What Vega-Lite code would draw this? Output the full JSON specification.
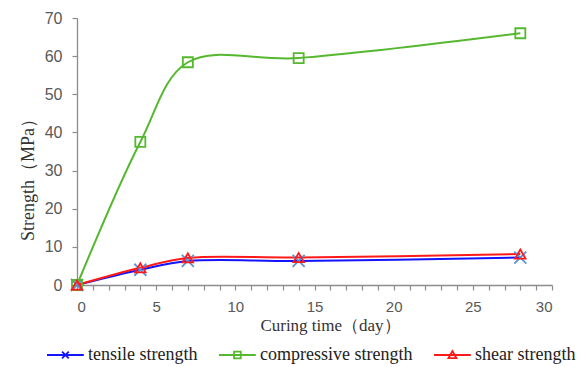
{
  "$schema": "https://vega.github.io/schema/vega-lite/v6.json",
  "width": 475,
  "height": 267,
  "autosize": "none",
  "padding": {"left": 77, "top": 18, "right": 31, "bottom": 82},
  "background": "white",
  "config": {
    "view": {"stroke": null},
    "axis": {
      "grid": false,
      "domainColor": "#8c8c8c",
      "domainWidth": 1.3,
      "tickColor": "#8c8c8c",
      "tickWidth": 1.2,
      "labelColor": "#595959",
      "labelFont": "Liberation Sans",
      "labelFontSize": 16,
      "titleFont": "Liberation Serif",
      "titleFontSize": 17,
      "titleFontWeight": "normal",
      "titleColor": "#333333"
    }
  },
  "data": {
    "values": [
      {"day": 0, "strength": 0, "series": "tensile strength"},
      {"day": 4, "strength": 4.0, "series": "tensile strength"},
      {"day": 7, "strength": 6.3, "series": "tensile strength"},
      {"day": 14, "strength": 6.3, "series": "tensile strength"},
      {"day": 28, "strength": 7.2, "series": "tensile strength"},
      {"day": 0, "strength": 0, "series": "compressive strength"},
      {"day": 4, "strength": 37.5, "series": "compressive strength"},
      {"day": 7, "strength": 58.4, "series": "compressive strength"},
      {"day": 14, "strength": 59.5, "series": "compressive strength"},
      {"day": 28, "strength": 66.0, "series": "compressive strength"},
      {"day": 0, "strength": 0, "series": "shear strength"},
      {"day": 4, "strength": 4.5, "series": "shear strength"},
      {"day": 7, "strength": 7.1, "series": "shear strength"},
      {"day": 14, "strength": 7.2, "series": "shear strength"},
      {"day": 28, "strength": 8.1, "series": "shear strength"}
    ]
  },
  "encoding": {
    "x": {
      "field": "day",
      "type": "quantitative",
      "scale": {"domain": [0, 30], "nice": false},
      "axis": {
        "title": "Curing time（day）",
        "titleX": 253,
        "labelFontSize": 15,
        "values": [0,1,2,3,4,5,6,7,8,9,10,11,12,13,14,15,16,17,18,19,20,21,22,23,24,25,26,27,28,29,30],
        "labelExpr": "datum.value % 5 === 0 ? datum.label : ''",
        "tickSize": 5,
        "labelPadding": 9,
        "titlePadding": 3
      }
    },
    "y": {
      "field": "strength",
      "type": "quantitative",
      "scale": {"domain": [0, 70], "nice": false},
      "axis": {
        "title": "Strength（MPa）",
        "titleFontSize": 18,
        "titleY": 157,
        "values": [0, 10, 20, 30, 40, 50, 60, 70],
        "tickSize": 5,
        "labelPadding": 10,
        "titlePadding": 7
      }
    }
  },
  "layer": [
    {
      "mark": {"type": "line", "interpolate": "catmull-rom", "strokeWidth": 2},
      "encoding": {
        "color": {
          "field": "series",
          "type": "nominal",
          "scale": {
            "domain": ["tensile strength", "compressive strength", "shear strength"],
            "range": ["#1414ff", "#55b82e", "#ff1a1a"]
          },
          "legend": {
            "title": null,
            "orient": "none",
            "direction": "horizontal",
            "legendX": -31,
            "legendY": 328,
            "symbolSize": 256,
            "symbolStrokeWidth": 1.8,
            "labelFont": "Liberation Serif",
            "labelFontSize": 18,
            "labelColor": "#222222",
            "labelOffset": 24,
            "labelLimit": 200,
            "columnPadding": 17,
            "encode": {
              "symbols": {
                "update": {
                  "shape": {"signal": "datum.value === 'tensile strength' ? 'M-1,0H3.6M0.88,-0.42L1.72,0.42M0.88,0.42L1.72,-0.42' : datum.value === 'compressive strength' ? 'M-1,0H3.6M0.88,-0.42H1.72V0.42H0.88Z' : 'M-1,0H3.6M1.3,-0.5L1.8,0.4H0.8Z'"},
                  "fill": {"value": "transparent"}
                }
              }
            }
          }
        },
        "order": {"field": "day", "type": "quantitative"}
      }
    },
    {
      "transform": [{"filter": "datum.series === 'tensile strength'"}],
      "mark": {"type": "point", "shape": "M-1,-1L1,1M-1,1L1,-1", "size": 144, "filled": false, "stroke": "#5b93d6", "strokeWidth": 1.8, "opacity": 1}
    },
    {
      "transform": [{"filter": "datum.series === 'compressive strength'"}],
      "mark": {"type": "point", "shape": "square", "size": 100, "filled": false, "stroke": "#55b82e", "strokeWidth": 1.8, "opacity": 1}
    },
    {
      "transform": [{"filter": "datum.series === 'shear strength'"}],
      "mark": {"type": "point", "shape": "triangle-up", "size": 110, "filled": false, "stroke": "#ff1a1a", "strokeWidth": 1.8, "opacity": 1}
    }
  ]
}
